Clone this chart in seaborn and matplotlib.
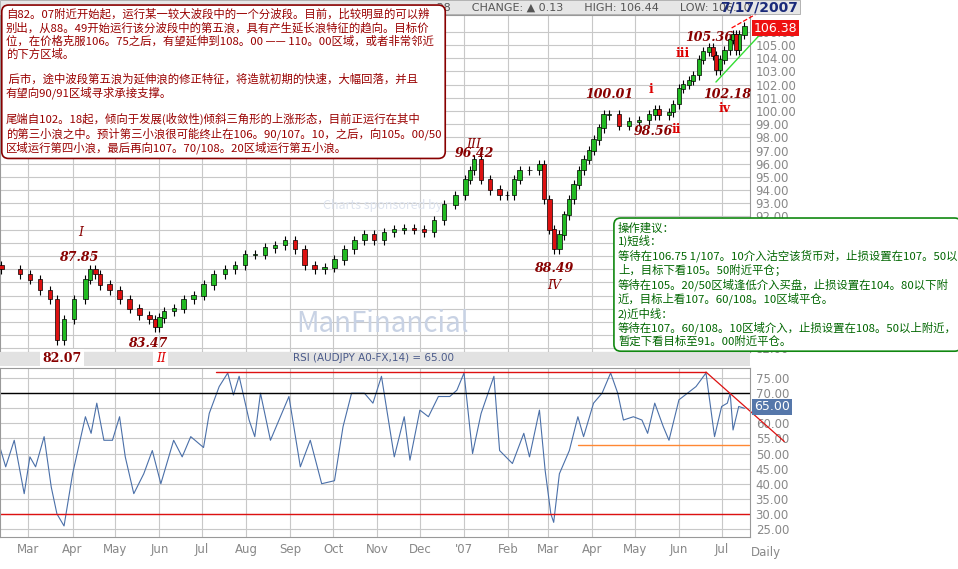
import numpy as np
import pandas as pd
import matplotlib
matplotlib.use("Agg")
import matplotlib.pyplot as plt
from matplotlib.patches import FancyBboxPatch
import seaborn as sns

sns.set_style("whitegrid")
plt.rcParams['font.family'] = ['Noto Sans CJK SC', 'DejaVu Sans']

# AUD/JPY closes
price_dates = ["2006-02-10", "2006-02-23", "2006-03-02", "2006-03-09", "2006-03-16", "2006-03-21",
               "2006-03-26", "2006-04-02", "2006-04-10", "2006-04-13", "2006-04-17", "2006-04-20",
               "2006-04-27", "2006-05-04", "2006-05-11", "2006-05-18", "2006-05-25", "2006-05-29",
               "2006-06-01", "2006-06-04", "2006-06-11", "2006-06-18", "2006-06-25", "2006-07-02",
               "2006-07-09", "2006-07-17", "2006-07-24", "2006-07-31", "2006-08-07", "2006-08-14",
               "2006-08-21", "2006-08-28", "2006-09-04", "2006-09-11", "2006-09-18", "2006-09-25",
               "2006-10-02", "2006-10-09", "2006-10-16", "2006-10-23", "2006-10-30", "2006-11-06",
               "2006-11-13", "2006-11-20", "2006-11-27", "2006-12-04", "2006-12-11", "2006-12-18",
               "2006-12-26", "2007-01-02", "2007-01-05", "2007-01-08", "2007-01-13", "2007-01-19",
               "2007-01-26", "2007-01-31", "2007-02-05", "2007-02-09", "2007-02-16", "2007-02-23",
               "2007-02-26", "2007-03-02", "2007-03-05", "2007-03-09", "2007-03-12", "2007-03-16",
               "2007-03-19", "2007-03-23", "2007-03-26", "2007-03-30", "2007-04-02", "2007-04-06",
               "2007-04-09", "2007-04-13", "2007-04-20", "2007-04-27", "2007-05-04", "2007-05-11",
               "2007-05-15", "2007-05-18", "2007-05-25", "2007-05-28", "2007-06-01", "2007-06-04",
               "2007-06-08", "2007-06-11", "2007-06-15", "2007-06-18", "2007-06-22", "2007-06-25",
               "2007-06-27", "2007-06-30", "2007-07-03", "2007-07-07", "2007-07-09", "2007-07-11",
               "2007-07-13", "2007-07-17"]
price_close = [88.0, 87.6, 87.2, 86.4, 85.7, 82.6, 84.2, 85.7, 87.2, 88.0, 87.6, 86.8,
               86.4, 85.7, 85.0, 84.5, 84.2, 83.6, 84.3, 84.8, 85.0, 85.7, 86.0, 86.8,
               87.6, 88.0, 88.3, 89.1, 89.1, 89.6, 89.8, 90.2, 89.5, 88.3, 88.0, 88.1,
               88.7, 89.5, 90.2, 90.6, 90.2, 90.8, 91.0, 91.1, 91.0, 90.8, 91.7, 92.9,
               93.6, 94.8, 95.5, 96.3, 94.8, 94.0, 93.6, 93.6, 94.8, 95.5, 95.5, 95.9,
               93.3, 91.0, 89.5, 90.6, 92.1, 93.3, 94.4, 95.5, 96.3, 97.0, 97.8, 98.7,
               99.7, 99.7, 98.9, 99.2, 99.3, 99.7, 100.1, 99.7, 99.9, 100.5, 101.7, 102.0,
               102.3, 102.7, 103.9, 104.5, 104.8, 104.2, 103.1, 103.9, 104.6, 105.4, 105.8, 104.6,
               105.8, 106.38]

rsi_dates = ["2006-02-09", "2006-02-13", "2006-02-19", "2006-02-26", "2006-03-02", "2006-03-06",
             "2006-03-12", "2006-03-17", "2006-03-21", "2006-03-26", "2006-04-01", "2006-04-10",
             "2006-04-14", "2006-04-18", "2006-04-23", "2006-04-29", "2006-05-04", "2006-05-08",
             "2006-05-14", "2006-05-21", "2006-05-27", "2006-06-02", "2006-06-11", "2006-06-17",
             "2006-06-23", "2006-07-02", "2006-07-06", "2006-07-13", "2006-07-19", "2006-07-23",
             "2006-07-27", "2006-08-03", "2006-08-07", "2006-08-11", "2006-08-18", "2006-08-24",
             "2006-08-31", "2006-09-08", "2006-09-15", "2006-09-23", "2006-10-02", "2006-10-08",
             "2006-10-14", "2006-10-23", "2006-10-29", "2006-11-04", "2006-11-13", "2006-11-20",
             "2006-11-24", "2006-12-01", "2006-12-07", "2006-12-14", "2006-12-22", "2006-12-27",
             "2007-01-01", "2007-01-07", "2007-01-13", "2007-01-22", "2007-01-26", "2007-02-04",
             "2007-02-12", "2007-02-16", "2007-02-23", "2007-02-27", "2007-03-03", "2007-03-05",
             "2007-03-09", "2007-03-16", "2007-03-22", "2007-03-26", "2007-04-02", "2007-04-08",
             "2007-04-14", "2007-04-19", "2007-04-23", "2007-04-30", "2007-05-06", "2007-05-10",
             "2007-05-15", "2007-05-21", "2007-05-25", "2007-06-01", "2007-06-07", "2007-06-13",
             "2007-06-20", "2007-06-26", "2007-07-01", "2007-07-05", "2007-07-07", "2007-07-09",
             "2007-07-13", "2007-07-17"]
rsi_vals = [52, 45.6, 54.4, 36.7, 48.9, 45.6, 55.6, 38.9, 30, 26, 43.3, 62.2,
            56.7, 66.7, 54.4, 54.4, 62.2, 48.9, 36.7, 43.3, 51, 40, 54.4, 48.9,
            55.6, 52, 63.3, 72.2, 76.7, 69.4, 75.6, 61.1, 55.6, 70, 54.4, 61.1,
            68.9, 45.6, 54.4, 40, 41, 58.9, 70, 70, 66.7, 75.6, 48.9, 62.2,
            47.8, 64.4, 62.2, 68.9, 68.9, 71, 76.7, 50, 63.3, 75.6, 51, 46.7,
            56.7, 48.9, 64.4, 44.4, 30, 27.2, 43.3, 51, 62.2, 55.6, 66.7, 70,
            76.7, 70, 61.1, 62.2, 61.1, 56.7, 66.7, 58.9, 54.4, 67.8, 70, 72.2,
            76.7, 55.6, 65.6, 66.7, 70, 57.8, 65.6, 65]

month_ticks = ["2006-03-01", "2006-04-01", "2006-05-01", "2006-06-01", "2006-07-01", "2006-08-01",
               "2006-09-01", "2006-10-01", "2006-11-01", "2006-12-01", "2007-01-01", "2007-02-01",
               "2007-03-01", "2007-04-01", "2007-05-01", "2007-06-01", "2007-07-01"]
month_labels = ["Mar", "Apr", "May", "Jun", "Jul", "Aug", "Sep", "Oct", "Nov", "Dec", "'07",
                "Feb", "Mar", "Apr", "May", "Jun", "Jul"]

wave_labels = [("2006-04-07", 90.5, "I"), ("2006-04-05", 88.6, "87.85"), ("2006-05-24", 82.1, "83.47"),
               ("2007-01-08", 97.2, "III"), ("2007-01-08", 96.5, "96.42"), ("2007-03-05", 87.8, "88.49"),
               ("2007-03-05", 86.5, "IV"), ("2007-04-13", 101.0, "100.01"), ("2007-05-14", 98.2, "98.56"),
               ("2007-06-22", 105.3, "105.36"), ("2007-07-05", 101.0, "102.18")]
wave_roman = [("2007-05-12", 101.4, "i"), ("2007-05-30", 98.3, "ii"), ("2007-06-04", 104.1, "iii"),
              ("2007-07-03", 99.9, "iv")]

note_left = ("自82。07附近开始起，运行某一较大波段中的一个分波段。目前，比较明显的可以辨\n"
             "别出，从88。49开始运行该分波段中的第五浪，具有产生延长浪特征的趋向。目标价\n"
             "位，在价格克服106。75之后，有望延伸到108。00 —— 110。00区域，或者非常邻近\n"
             "的下方区域。\n\n"
             " 后市，途中波段第五浪为延伸浪的修正特征，将造就初期的快速，大幅回落，并且\n"
             "有望向90/91区域寻求承接支撑。\n\n"
             "尾端自102。18起，倾向于发展(收敛性)倾斜三角形的上涨形态，目前正运行在其中\n"
             "的第三小浪之中。预计第三小浪很可能终止在106。90/107。10，之后，向105。00/50\n"
             "区域运行第四小浪，最后再向107。70/108。20区域运行第五小浪。")
note_right = ("操作建议：\n1)短线：\n"
              "等待在106.75 1/107。10介入沽空该货币对，止损设置在107。50以\n"
              "上，目标下看105。50附近平仓；\n"
              "等待在105。20/50区域逢低介入买盘，止损设置在104。80以下附\n"
              "近，目标上看107。60/108。10区域平仓。\n"
              "2)近中线：\n"
              "等待在107。60/108。10区域介入，止损设置在108。50以上附近，\n"
              "暂定下看目标至91。00附近平仓。")

close = pd.Series(price_close, index=pd.to_datetime(price_dates))
opn = close.shift(1).fillna(close.iloc[0] + 0.3)
rsi = pd.DataFrame({"date": pd.to_datetime(rsi_dates), "rsi": rsi_vals})
ticks = pd.to_datetime(month_ticks)
xmin, xmax = pd.Timestamp("2006-02-09"), pd.Timestamp("2007-07-21")

fig = plt.figure(figsize=(9.58, 5.69), dpi=100)
ax = fig.add_axes([0.0, 0.381, 0.783, 0.593])
ax2 = fig.add_axes([0.0, 0.056, 0.783, 0.297])
grid_c = "#c8c8c8"

# candles
up = close >= opn
for mask, col in [(up, "#22bb22"), (~up, "#dd1111")]:
    d = close.index[mask]
    lo = np.minimum(opn[mask], close[mask])
    hi = np.maximum(opn[mask], close[mask])
    ax.vlines(d, lo - 0.35, hi + 0.35, color="black", lw=0.8, zorder=3)
    ax.bar(d, hi - lo + 0.05, bottom=lo, width=3, color=col, edgecolor="black", lw=0.5, zorder=4)

ax.set_xlim(xmin, xmax)
ax.set_ylim(81.7, 107.3)
ax.yaxis.tick_right()
ax.set_yticks(np.arange(82, 107))
ax.set_yticklabels([f"{v:.2f}" for v in np.arange(82, 107)], color="#888888", fontsize=8.5,
                   family="DejaVu Sans")
ax.set_xticks(ticks)
ax.set_xticklabels([])
ax.tick_params(length=0, pad=4)
ax.grid(color=grid_c, lw=0.8)
for s in ax.spines.values():
    s.set_color("#999999")

ax.plot(pd.to_datetime(["2007-06-27", "2007-08-03"]), [102.2, 106.5], color="#33dd33", lw=1,
        clip_on=False, zorder=5)
ax.plot(pd.to_datetime(["2007-07-08", "2007-07-30"]), [106.3, 107.65], color="red", lw=0.9,
        ls="--", clip_on=False, zorder=5)

for d, y, t in wave_labels:
    ax.text(pd.Timestamp(d), y, t, color="#880000", fontsize=9, style="italic",
            family="DejaVu Serif", ha="center", fontweight="bold" if t[0].isdigit() else "normal")
for d, y, t in wave_roman:
    ax.text(pd.Timestamp(d), y, t, color="#dd0000", fontsize=9, family="DejaVu Serif",
            ha="center", fontweight="bold")

# watermark
ax.text(pd.Timestamp("2006-11-05"), 92.6, "Charts sponsored by", color="#dde3ee", fontsize=9,
        style="italic", ha="center", zorder=1)
ax.text(pd.Timestamp("2006-11-05"), 83.2, "ManFinancial", color="#c8d2e4", fontsize=20,
        ha="center", zorder=1)

# price box
fig.text(0.787, 1 - 28 / 569, "106.38", color="white", fontsize=9, va="center",
         family="DejaVu Sans", bbox=dict(boxstyle="square,pad=0.15", fc="#ee1111", ec="none"))

# header
fig.patches.append(FancyBboxPatch((0.0, 0.975), 0.835, 0.025, boxstyle="square,pad=0",
                                  transform=fig.transFigure, fc="#e6e6e6", ec="#999999", lw=0.5))
fig.text(0.452, 0.987, ".38      CHANGE: \u25b2 0.13      HIGH: 106.44      LOW: 106.10",
         fontsize=8, color="#555555", va="center", family="DejaVu Sans")
fig.text(0.833, 0.987, "7/17/2007", fontsize=10, color="#1a2a7a", va="center", ha="right",
         fontweight="bold", family="DejaVu Sans")

# RSI panel
sns.lineplot(data=rsi, x="date", y="rsi", ax=ax2, color="#4a6fa8", lw=0.8)
ax2.set_xlim(xmin, xmax)
ax2.set_ylim(22.3, 78.3)
ax2.yaxis.tick_right()
ax2.set_yticks(np.arange(25, 80, 5))
ax2.set_yticklabels([f"{v:.2f}" for v in np.arange(25, 80, 5)], color="#888888", fontsize=8.5,
                    family="DejaVu Sans")
ax2.set_xticks(ticks)
ax2.set_xticklabels(month_labels, color="#888888", fontsize=8.5, family="DejaVu Sans")
ax2.tick_params(length=0, pad=4)
ax2.set_xlabel("")
ax2.set_ylabel("")
ax2.grid(color=grid_c, lw=0.8)
for s in ax2.spines.values():
    s.set_color("#999999")
ax2.axhline(70, color="black", lw=1)
ax2.axhline(30, color="#dd1111", lw=1)
ax2.plot(pd.to_datetime(["2006-07-11", "2007-06-20"]), [77, 77], color="#dd1111", lw=1)
ax2.plot(pd.to_datetime(["2007-03-22", "2007-07-20"]), [52.8, 52.8], color="#ff8833", lw=1)
ax2.plot(pd.to_datetime(["2007-06-20", "2007-08-14"]), [77, 54], color="#dd1111", lw=0.9,
         clip_on=False)
fig.text(0.8, 0.056 - 0.033, "Daily", color="#888888", fontsize=8.5, ha="center",
         family="DejaVu Sans")
fig.text(0.787, 1 - 407 / 569, "65.00", color="white", fontsize=9, va="center",
         family="DejaVu Sans", bbox=dict(boxstyle="square,pad=0.15", fc="#5577aa", ec="none"))
fig.patches.append(FancyBboxPatch((0.0, 1 - 366 / 569), 0.783, 14 / 569, boxstyle="square,pad=0",
                                  transform=fig.transFigure, fc="#e2e2e2", ec="none"))
fig.text(0.39, 1 - 358 / 569, "RSI (AUDJPY A0-FX,14) = 65.00", fontsize=7.5, color="#4a5a8a",
         ha="center", va="center", family="DejaVu Sans")
fig.text(0.065, 1 - 358 / 569, "82.07", color="#880000", fontsize=9, ha="center", va="center",
         family="DejaVu Serif", fontweight="bold",
         bbox=dict(boxstyle="square,pad=0.2", fc="white", ec="none"))
fig.text(0.168, 1 - 358 / 569, "II", color="#dd0000", fontsize=9, ha="center", va="center",
         family="DejaVu Serif", style="italic",
         bbox=dict(boxstyle="square,pad=0.2", fc="white", ec="none"))

# annotation boxes
fig.text(0.006, 0.985, note_left, fontsize=8.2, color="#990000", va="top", ha="left",
         linespacing=1.2,
         bbox=dict(boxstyle="round,pad=0.35,rounding_size=0.6", fc="white", ec="#880000", lw=1.2))
fig.text(0.645, 1 - 222 / 569, note_right, fontsize=8.2, color="#006600", va="top", ha="left",
         linespacing=1.2,
         bbox=dict(boxstyle="round,pad=0.35,rounding_size=0.6", fc="white", ec="#118811", lw=1.2))

fig.savefig("out.png", dpi=100)
